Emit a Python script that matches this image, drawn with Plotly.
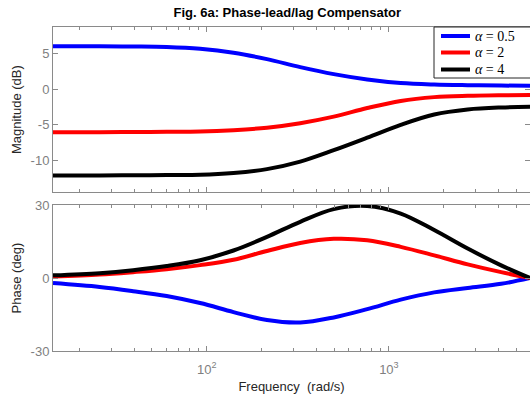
import math
import plotly.graph_objects as go

# ---- data ----
alpha_labels = ["<i>α</i> = 0.5", "<i>α</i> = 2", "<i>α</i> = 4"]
colors = ["#0000ff", "#ff0000", "#000000"]

freq = [14.3, 25.8, 39.4, 60.2, 91.9, 140.1, 213.9, 325.9, 497.8, 760.2, 1161, 1773, 2708, 4135, 5954]

mag_a05 = [6.02, 6.0, 5.97, 5.9, 5.65, 5.1, 4.2, 3.08, 2.1, 1.35, 0.85, 0.64, 0.55, 0.5, 0.46]
mag_a2 = [-6.05, -6.03, -6.01, -5.98, -5.94, -5.75, -5.4, -4.77, -3.85, -2.65, -1.65, -1.12, -0.93, -0.85, -0.82]
mag_a4 = [-12.1, -12.08, -12.07, -12.03, -12.0, -11.75, -11.2, -10.15, -8.55, -6.8, -5.0, -3.55, -2.85, -2.57, -2.48]

ph_a05 = [-2.1, -3.7, -5.4, -7.4, -10.3, -14.0, -17.3, -18.3, -16.2, -12.8, -8.9, -5.9, -4.1, -2.4, 0.0]
ph_a2 = [0.6, 1.4, 2.4, 3.6, 5.3, 7.5, 11.1, 14.4, 16.1, 15.5, 12.8, 9.3, 5.6, 2.4, 0.0]
ph_a4 = [1.1, 2.0, 3.2, 4.9, 7.3, 11.3, 16.9, 23.1, 28.3, 29.6, 26.5, 19.7, 12.1, 5.2, 0.0]

mag_ticks = [-10, -5, 0, 5]
mag_tick_text = ["-10", "-5", "0", "5"]
ph_ticks = [-30, 0, 30]
ph_tick_text = ["-30", "0", "30"]
x_major = [100, 1000]
x_major_text = ["10<sup>2</sup>", "10<sup>3</sup>"]
x_minor = [20, 30, 40, 50, 60, 70, 80, 90, 200, 300, 400, 500, 600, 700, 800, 900, 2000, 3000, 4000, 5000]

mags = [mag_a05, mag_a2, mag_a4]
phs = [ph_a05, ph_a2, ph_a4]

fig = go.Figure()
for lab, col, m in zip(alpha_labels, colors, mags):
    fig.add_trace(go.Scatter(x=freq, y=m, mode="lines", name=lab, showlegend=False,
                             line=dict(color=col, width=4, shape="spline", smoothing=1.0),
                             xaxis="x", yaxis="y"))
for lab, col, p in zip(alpha_labels, colors, phs):
    fig.add_trace(go.Scatter(x=freq, y=p, mode="lines", name=lab, showlegend=False,
                             line=dict(color=col, width=4, shape="spline", smoothing=1.0),
                             xaxis="x2", yaxis="y2"))

# ---- manual legend (paper coordinates of the plotting area) ----
W, H, L, T = 530, 400, 53, 27
B = 49
pw, ph = W - L, H - T - B


def px(x):
    return (x - L) / pw


def py(y):
    return (H - B - y) / ph


shapes = [dict(type="rect", xref="paper", yref="paper", x0=px(434), x1=px(534),
               y0=py(78), y1=py(27), fillcolor="white",
               line=dict(color="#262626", width=1), layer="above")]
annotations = []
row_y = [36, 52.5, 69.5]
for lab, col, ry in zip(alpha_labels, colors, row_y):
    shapes.append(dict(type="line", xref="paper", yref="paper", x0=px(441), x1=px(470),
                       y0=py(ry), y1=py(ry), line=dict(color=col, width=4), layer="above"))
    annotations.append(dict(text=lab, xref="paper", yref="paper", x=px(473), y=py(ry),
                            xanchor="left", yanchor="middle", showarrow=False,
                            font=dict(family="Liberation Serif, DejaVu Serif", size=14,
                                      color="#000000")))

xr = [math.log10(freq[0]), math.log10(freq[-1])]
axcol = "#8a8a8a"
tickfont = dict(family="Liberation Sans, Arial", size=13, color="#7f7f7f")
titlefont = dict(family="Liberation Sans, Arial", size=13, color="#262626")

common_x = dict(type="log", range=xr, showgrid=False, zeroline=False, showline=True,
                linecolor=axcol, linewidth=1, mirror="ticks", ticks="inside", ticklen=5,
                tickcolor=axcol, tickvals=x_major,
                minor=dict(tickvals=x_minor, ticks="inside", ticklen=3, tickcolor=axcol),
                tickfont=tickfont)
common_y = dict(showgrid=False, zeroline=False, showline=True, linecolor=axcol, linewidth=1,
                mirror="ticks", ticks="inside", ticklen=5, tickcolor=axcol, tickfont=tickfont)

fig.update_layout(
    width=W, height=H,
    margin=dict(l=L, r=0, t=T, b=B),
    paper_bgcolor="white", plot_bgcolor="white",
    title=dict(text="<b>Fig. 6a: Phase-lead/lag Compensator</b>", x=0.542, xanchor="center",
               y=1 - 12 / 400, yanchor="middle",
               font=dict(family="Liberation Sans, Arial", size=13, color="#000000")),
    xaxis=dict(common_x, anchor="y", showticklabels=False, domain=[0, 1]),
    yaxis=dict(common_y, domain=[0.4898, 1.0], range=[-14.45, 8.7], tickvals=mag_ticks,
               ticktext=mag_tick_text,
               title=dict(text="Magnitude (dB)", font=titlefont, standoff=6)),
    xaxis2=dict(common_x, anchor="y2", ticktext=x_major_text, domain=[0, 1], ticklabelstandoff=6,
                title=dict(text="Frequency\u00a0 (rad/s)", font=titlefont, standoff=6)),
    yaxis2=dict(common_y, domain=[0.0, 0.4506], range=[-30, 30], tickvals=ph_ticks,
                ticktext=ph_tick_text,
                title=dict(text="Phase (deg)", font=titlefont, standoff=6)),
    shapes=shapes,
    annotations=annotations,
    showlegend=False,
)

fig.write_html("out.html", config={"displayModeBar": False},
               post_script="document.body.style.margin='0';")
